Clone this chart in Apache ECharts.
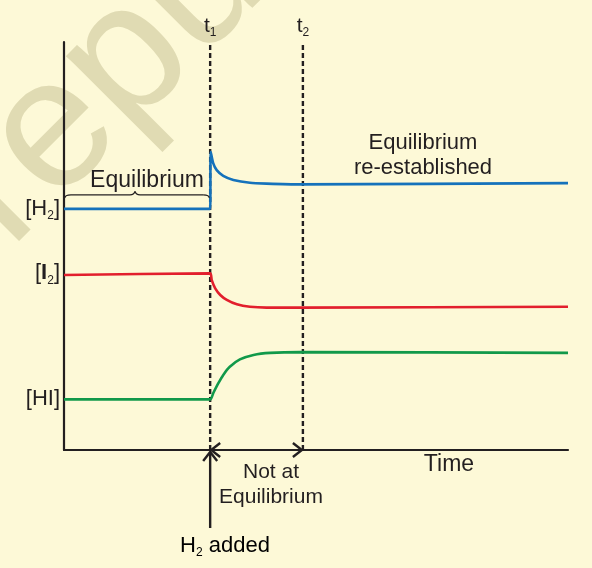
<!DOCTYPE html>
<html><head><meta charset="utf-8">
<script src="https://cdn.jsdelivr.net/npm/echarts@6/dist/echarts.min.js"></script>
<style>html,body{margin:0;padding:0;background:#fdf9d7}#c{width:592px;height:568px}</style>
</head><body><div id="c"></div>
<script>
// Time (0-100) vs concentration (0-100)
const timeH2 = [0, 29.0, 29.1, 29.6, 30.3, 31.6, 33.6, 36.9, 40.2, 46.8, 100];
const concH2 = [59.1, 59.1, 73.1, 70.3, 68.6, 67.2, 66.2, 65.5, 65.3, 65.1, 65.4];
const timeI2 = [0, 29.0, 29.3, 30.0, 31.0, 32.3, 34.3, 36.9, 40.2, 46.8, 100];
const concI2 = [42.9, 43.3, 41.7, 39.6, 38.0, 36.8, 35.7, 35.1, 34.9, 34.9, 35.1];
const timeHI = [0, 29.0, 29.6, 30.6, 31.6, 32.9, 34.9, 37.6, 40.9, 46.8, 100];
const concHI = [12.4, 12.4, 13.9, 16.3, 18.4, 20.4, 22.2, 23.3, 23.8, 24.0, 23.8];
const speciesLabels = ['{b|[H}{s|2}{b|]}', '{b|[}{bb|I}{s|2}{b|]}', '{b|[HI]}'];
const speciesLevels = [59.1, 43.3, 12.4];
const eventTimes = [29.0, 47.4];
const eventLabels = ['{t|t}{s|1}', '{t|t}{s|2}'];

const INK = '#231f20';
const FONT = '"Liberation Sans", Arial, Helvetica, sans-serif';
const zip = (xs, ys) => xs.map((x, i) => [x, ys[i]]);
const rich = {
  b: {fontSize: 22, color: INK, fontFamily: FONT},
  bb: {fontSize: 22, color: INK, fontFamily: FONT, fontWeight: 'bold'},
  t: {fontSize: 21, color: INK, fontFamily: FONT},
  s: {fontSize: 12, color: INK, fontFamily: FONT, padding: [14, 0, 0, 0]}
};

const chart = echarts.init(document.getElementById('c'), null, {renderer: 'canvas'});
const curve = (name, xs, ys, color) => ({
  type: 'line', name, data: zip(xs, ys), showSymbol: false, smooth: 0.2,
  lineStyle: {color, width: 2.6}, z: 3, silent: true
});
const dashed = (t, i) => ({
  type: 'line', data: [[t, 0], [t, 100]], showSymbol: false, silent: true, z: 2,
  lineStyle: {color: INK, width: 2.4, type: [5, 3]},
  markPoint: {symbol: 'circle', symbolSize: 0, data: [{coord: [t, 100], label: {show: true, position: 'top', distance: 3, formatter: eventLabels[i], rich}}]}
});

chart.setOption({
  backgroundColor: '#fdf9d7',
  animation: false,
  grid: {left: 64, right: 24, top: 42, bottom: 118},
  xAxis: {type: 'value', min: 0, max: 100, axisLine: {lineStyle: {color: INK, width: 2.2}}, axisTick: {show: false}, axisLabel: {show: false}, splitLine: {show: false}},
  yAxis: {type: 'value', min: 0, max: 100, axisLine: {show: true, lineStyle: {color: INK, width: 2.2}}, axisTick: {show: false}, axisLabel: {show: false}, splitLine: {show: false}},
  series: [
    curve('[H2]', timeH2, concH2, '#1572bb'),
    curve('[I2]', timeI2, concI2, '#e21f2d'),
    curve('[HI]', timeHI, concHI, '#11994a'),
    dashed(eventTimes[0], 0),
    dashed(eventTimes[1], 1),
    {type: 'scatter', symbolSize: 0, silent: true, itemStyle: {opacity: 1},
     data: speciesLevels.map((v, i) => ({value: [0, v], label: {formatter: speciesLabels[i]}})),
     label: {show: true, position: 'left', distance: 4, color: INK, opacity: 1, rich}}
  ]
});

function draw() {
  const P = (x, y) => chart.convertToPixel({gridIndex: 0}, [x, y]);
  const [xa, yAxisPx] = P(0, 0);
  const [x1] = P(eventTimes[0], 0);
  const [x2] = P(eventTimes[1], 0);
  const hy = P(0, speciesLevels[0])[1];
  const by = hy - 14, xm = 135;
  const txt = (text, x, y, size) => ({type: 'text', x, y, silent: true, z: 10,
    style: {text, fill: INK, font: size + 'px ' + FONT, align: 'center', verticalAlign: 'middle'}});
  const poly = (pts, w) => ({type: 'polyline', silent: true, z: 10, shape: {points: pts}, style: {stroke: INK, lineWidth: w, fill: null}});
  const quad = (a, c, b) => ({type: 'bezierCurve', silent: true, z: 10,
    shape: {x1: a[0], y1: a[1], cpx1: c[0], cpy1: c[1], x2: b[0], y2: b[1]}, style: {stroke: INK, lineWidth: 1.3, fill: null}});
  chart.setOption({graphic: [
    {type: 'text', x: -26, y: 214, rotation: Math.PI / 4, silent: true, z: -1,
     style: {text: 'repu', fill: '#e0dbb3', font: '185px ' + FONT, align: 'left', verticalAlign: 'middle'}},
    quad([xa + 1, by + 3], [xa + 1, by], [xa + 7, by]),
    poly([[xa + 7, by], [xm - 5, by]], 1.3),
    quad([xm - 5, by], [xm - 1, by], [xm, by - 3.5]),
    quad([xm, by - 3.5], [xm + 1, by], [xm + 5, by]),
    poly([[xm + 5, by], [x1 - 7, by]], 1.3),
    quad([x1 - 7, by], [x1 - 1, by], [x1 - 1, by + 3]),
    txt('Equilibrium', xa + 83, by - 14, 23),
    txt('Equilibrium', 423, 143, 22),
    txt('re-established', 423, 168, 22),
    txt('Time', 449, 465, 23),
    txt('Not at', 271, 472, 21),
    txt('Equilibrium', 271, 497, 21),
    {type: 'text', x: 225, y: 546, silent: true, z: 10,
     style: {text: '{b|H}{s|2}{b| added}', rich, align: 'center', verticalAlign: 'middle'}},
    poly([[x1, yAxisPx + 78], [x1, yAxisPx + 2]], 2.4),
    poly([[x1 - 7, yAxisPx + 11], [x1, yAxisPx + 2], [x1 + 7, yAxisPx + 11]], 2.4),
    poly([[x1 + 10, yAxisPx - 7], [x1 + 1, yAxisPx], [x1 + 10, yAxisPx + 7]], 2.4),
    poly([[x2 - 10, yAxisPx - 7], [x2 - 1, yAxisPx], [x2 - 10, yAxisPx + 7]], 2.4)
  ]});
}
draw();
</script></body></html>
